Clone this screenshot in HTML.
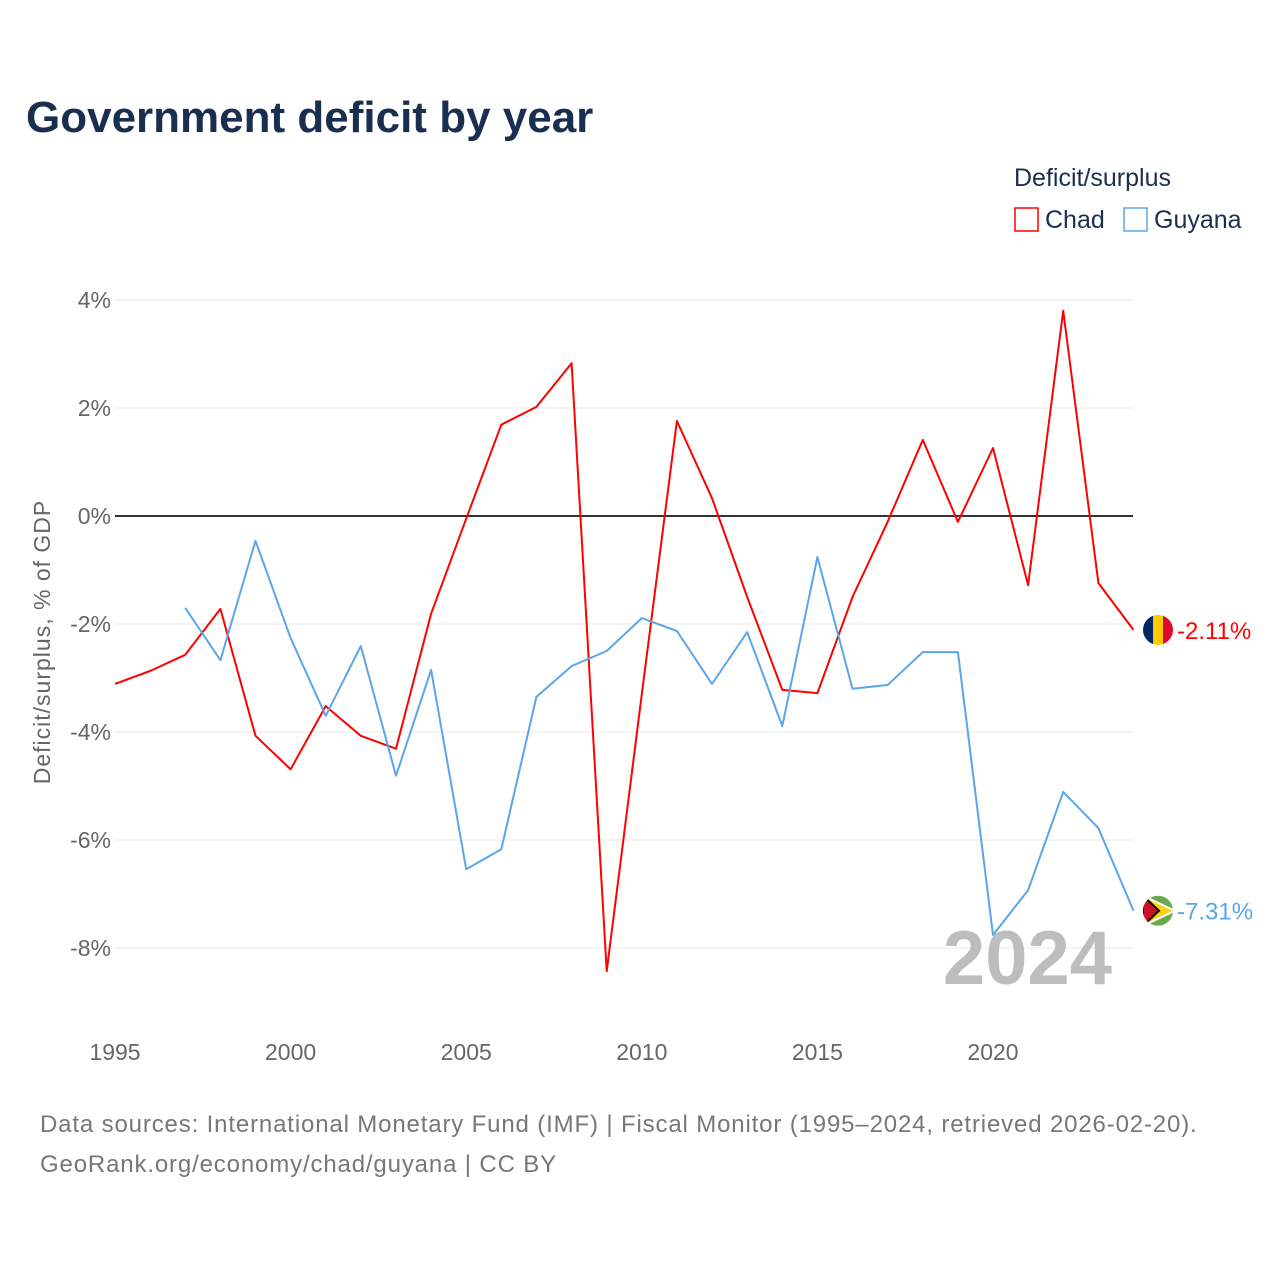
<!DOCTYPE html>
<html><head><meta charset="utf-8"><style>
body{margin:0;background:#fff;font-family:"Liberation Sans",sans-serif}
svg text{font-family:"Liberation Sans",sans-serif}
</style></head><body>
<svg width="1280" height="1280" viewBox="0 0 1280 1280">
<text x="26" y="132" font-size="44" font-weight="bold" fill="#1a2e4f">Government deficit by year</text>
<text x="1014" y="186" font-size="25" fill="#1a2e4f">Deficit/surplus</text>
<g><rect x="1015" y="208" width="23" height="23" fill="none" stroke="#f00" stroke-width="1.5"/><text x="1045" y="228" font-size="25" fill="#1a2e4f">Chad</text></g>
<g><rect x="1124" y="208" width="23" height="23" fill="none" stroke="#5ba5ea" stroke-width="1.5"/><text x="1154" y="228" font-size="25" fill="#1a2e4f">Guyana</text></g>
<g id="grid"></g><g id="xt"></g><g id="series"></g>
<text x="1112" y="984" font-size="76" font-weight="bold" fill="#bdbdbd" text-anchor="end">2024</text>
<text transform="translate(50,642) rotate(-90)" font-size="23" letter-spacing="1" fill="#666" text-anchor="middle">Deficit/surplus, % of GDP</text>
<text x="40" y="1132" font-size="24" letter-spacing="0.85" fill="#777">Data sources: International Monetary Fund (IMF) | Fiscal Monitor (1995–2024, retrieved 2026-02-20).</text>
<text x="40" y="1172" font-size="24" letter-spacing="0.85" fill="#777">GeoRank.org/economy/chad/guyana | CC BY</text>
</svg>
<script>
const years=[1995,1996,1997,1998,1999,2000,2001,2002,2003,2004,2005,2006,2007,2008,2009,2010,2011,2012,2013,2014,2015,2016,2017,2018,2019,2020,2021,2022,2023,2024];
const chad=[-3.11,-2.87,-2.57,-1.72,-4.07,-4.69,-3.52,-4.07,-4.31,-1.81,-0.05,1.69,2.02,2.83,-8.43,-3.3,1.76,0.33,-1.5,-3.22,-3.28,-1.5,-0.11,1.41,-0.11,1.26,-1.28,3.8,-1.24,-2.11];
const guyana=[null,null,-1.70,-2.67,-0.46,-2.26,-3.70,-2.41,-4.81,-2.85,-6.54,-6.17,-3.35,-2.78,-2.5,-1.89,-2.13,-3.11,-2.15,-3.89,-0.76,-3.20,-3.13,-2.52,-2.52,-7.76,-6.93,-5.11,-5.78,-7.31];
const yTicks=[4,2,0,-2,-4,-6,-8];
const xTicks=[1995,2000,2005,2010,2015,2020];
const NS="http://www.w3.org/2000/svg";
const X=y=>115+(y-1995)*(993-115)/25;
const Y=v=>516-v*54;
function mk(t,a,p){const e=document.createElementNS(NS,t);for(const k in a)e.setAttribute(k,a[k]);p.appendChild(e);return e;}
const g=document.getElementById('grid');
yTicks.forEach(v=>{
 const l=mk('line',{x1:115,x2:1133,y1:Y(v),y2:Y(v),stroke:v===0?'#333':'#e8e8e8','stroke-width':v===0?2:1},g);
 
 
 const t=mk('text',{x:111,y:Y(v)+8,'font-size':23,fill:'#666','text-anchor':'end'},g);
 t.textContent=v+'%';
 
 
});
const xt=document.getElementById('xt');
xTicks.forEach(v=>{
 const t=mk('text',{x:X(v),y:1060,'font-size':23,fill:'#666','text-anchor':'middle'},xt);
 t.textContent=v;
 
 
});
const s=document.getElementById('series');
function line(d,c,name){
 const pts=[];d.forEach((v,i)=>{if(v!==null)pts.push(X(years[i]).toFixed(1)+','+Y(v).toFixed(1));});
 const p=mk('polyline',{points:pts.join(' '),fill:'none',stroke:c,'stroke-width':2,'stroke-linejoin':'round'},s);
 
 
 const last=d[d.length-1];
 const t=mk('text',{x:1177,y:Y(last)+9,'font-size':24,fill:c},s);
 t.textContent=last.toFixed(2)+'%';
 
 
 return Y(last);
}
const cy=line(chad,'#f00','chad');
const gy=line(guyana,'#5ba5ea','guyana');
const f1=mk('g',{},s);


const cp1=mk('clipPath',{id:'c1'},f1);mk('circle',{cx:1158,cy:cy,r:15},cp1);
const fg1=mk('g',{'clip-path':'url(#c1)'},f1);
mk('rect',{x:1143,y:cy-15,width:10,height:30,fill:'#002664'},fg1);
mk('rect',{x:1153,y:cy-15,width:10,height:30,fill:'#fecb00'},fg1);
mk('rect',{x:1163,y:cy-15,width:10,height:30,fill:'#e0082d'},fg1);
const f2=mk('g',{},s);


const cp=mk('clipPath',{id:'c2'},f2);mk('circle',{cx:1158,cy:gy,r:15},cp);
const fg2=mk('g',{'clip-path':'url(#c2)'},f2);
mk('rect',{x:1143,y:gy-15,width:30,height:30,fill:'#6aa84f'},fg2);
mk('polygon',{points:`1143,${gy-15} 1175,${gy} 1143,${gy+15}`,fill:'#fcd116',stroke:'#fff','stroke-width':2},fg2);
mk('polygon',{points:`1143,${gy-15} 1159,${gy} 1143,${gy+15}`,fill:'#ce1126',stroke:'#000','stroke-width':2},fg2);
</script>
</body></html>
